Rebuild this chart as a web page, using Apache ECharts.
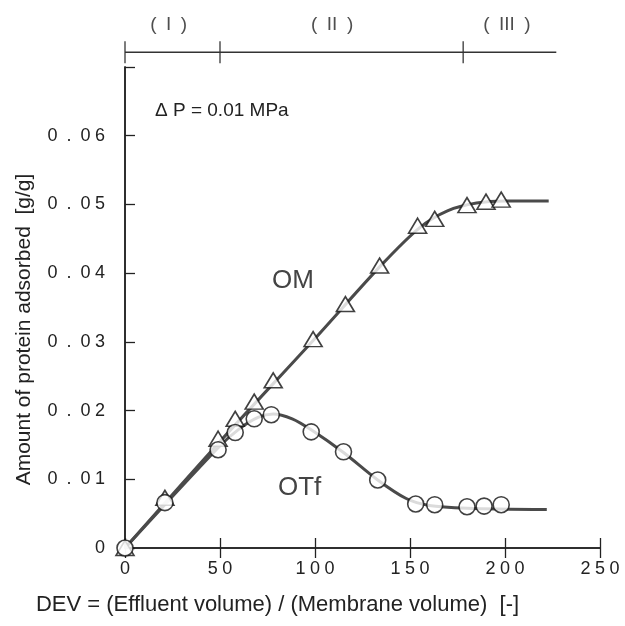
<!DOCTYPE html>
<html><head><meta charset="utf-8">
<script src="https://cdn.jsdelivr.net/npm/echarts@6/dist/echarts.min.js"></script>
<style>html,body{margin:0;padding:0;background:#fff}#c{width:625px;height:626px}</style>
</head><body><div id="c"></div>
<script>
// ---- data ----
// measured points (markers)
const omDEV     = [0, 21, 49, 58, 68, 78, 99, 116, 134, 154, 163, 180, 190, 198];
const omAmount  = [0, 0.0073, 0.0159, 0.0188, 0.0213, 0.0244, 0.0304, 0.0355, 0.0411, 0.0469, 0.0479, 0.0499, 0.0504, 0.0507];
const otfDEV    = [0, 21, 49, 58, 68, 77, 98, 115, 133, 153, 163, 180, 189, 198];
const otfAmount = [0, 0.0066, 0.0143, 0.0168, 0.0188, 0.0194, 0.0169, 0.0140, 0.0099, 0.0064, 0.0063, 0.0060, 0.0061, 0.0063];
// drawn fitted curves
const omCurveDEV     = [0, 50, 100, 135, 155, 170, 185, 200, 223];
const omCurveAmount  = [0, 0.0155, 0.0305, 0.0412, 0.0466, 0.0491, 0.0502, 0.0505, 0.0505];
const otfCurveDEV    = [0, 49, 60, 70, 78, 88, 98, 115, 133, 148, 160, 180, 222];
const otfCurveAmount = [0, 0.0146, 0.0173, 0.0190, 0.0195, 0.0188, 0.0172, 0.0139, 0.0099, 0.0072, 0.0062, 0.0058, 0.0056];
// axes
const xTickValues = [0, 50, 100, 150, 200, 250];
const yTickValues = [0, 0.01, 0.02, 0.03, 0.04, 0.05, 0.06];
// region bracket above the plot
const regionBounds = [0, 50, 178];
const regionEnd = 227;
const regionNames = ['(\u2002I\u2002)', '(\u2002II\u2002)', '(\u2002III\u2002)'];
const regionLabelDEV = [23, 109, 201];

const FONT = 'Liberation Sans, Arial, sans-serif';
const spaced = s => String(s).split('').join('\u2005');
const spacedDecimal = s => String(s).split('.').map(spaced).join('\u2002.\u2002');
const pairs = (xs, ys) => xs.map((x, i) => [x, ys[i]]);

const chart = echarts.init(document.getElementById('c'), null, {renderer: 'canvas'});
const axisLine = {show: true, lineStyle: {color: '#222', width: 1.5}};
const tickStyle = {inside: true, length: 10, lineStyle: {color: '#222', width: 1.3}};
const BAR_Y = 0.26;

chart.setOption({
  animation: false,
  backgroundColor: '#fff',
  textStyle: {fontFamily: FONT},
  grid: [
    {left: 125, right: 25, top: 67, bottom: 78},
    {left: 125, right: 25, top: 10, height: 57}
  ],
  xAxis: [
    {
      type: 'value', gridIndex: 0, position: 'bottom', min: 0, max: 250, interval: 50,
      axisLine: axisLine, splitLine: {show: false}, axisTick: tickStyle,
      axisLabel: {
        customValues: xTickValues, margin: 12, fontSize: 18, color: '#222', fontFamily: FONT,
        formatter: v => spaced(v)
      },
      name: 'DEV = (Effluent volume) / (Membrane volume)  [-]',
      nameLocation: 'middle', nameGap: 46,
      nameTextStyle: {fontSize: 22, color: '#222', fontFamily: FONT, padding: [0, 170, 0, 0]}
    },
    {
      type: 'value', gridIndex: 0, position: 'top', min: 0, max: 250, interval: 50,
      axisLine: axisLine, splitLine: {show: false}, axisTick: tickStyle,
      axisLabel: {show: false}
    },
    {type: 'value', gridIndex: 1, min: 0, max: 250, show: false}
  ],
  yAxis: [
    {
      type: 'value', gridIndex: 0, position: 'left', min: 0, max: 0.07, interval: 0.01,
      axisLine: axisLine, splitLine: {show: false}, axisTick: tickStyle,
      axisLabel: {
        customValues: yTickValues, margin: 20, fontSize: 18, color: '#222', fontFamily: FONT,
        formatter: v => v === 0 ? '0' : spacedDecimal(v.toFixed(2))
      },
      name: 'Amount of protein adsorbed  [g/g]',
      nameLocation: 'middle', nameGap: 90,
      nameTextStyle: {fontSize: 21, color: '#222', fontFamily: FONT, padding: [0, 44, 0, 0]}
    },
    {
      type: 'value', gridIndex: 0, position: 'right', min: 0, max: 0.07,
      axisLine: axisLine, axisTick: {show: false}, axisLabel: {show: false}, splitLine: {show: false}
    },
    {type: 'value', gridIndex: 1, min: 0, max: 1, show: false}
  ],
  graphic: [
    {type: 'text', left: 272, top: 268, style: {text: 'OM', font: '26px ' + FONT, fill: '#444'}},
    {type: 'text', left: 278, top: 475, style: {text: 'OTf', font: '26px ' + FONT, fill: '#444'}},
    {type: 'text', left: 155, top: 101, style: {text: 'Δ P = 0.01 MPa', font: '19px ' + FONT, fill: '#222'}}
  ],
  series: [
    {
      name: 'OM curve', type: 'line', xAxisIndex: 0, yAxisIndex: 0,
      data: pairs(omCurveDEV, omCurveAmount),
      smooth: 0.3, showSymbol: false, symbol: 'none', clip: false,
      lineStyle: {color: '#4a4a4a', width: 3}, z: 2
    },
    {
      name: 'OTf curve', type: 'line', xAxisIndex: 0, yAxisIndex: 0,
      data: pairs(otfCurveDEV, otfCurveAmount),
      smooth: 0.3, showSymbol: false, symbol: 'none', clip: false,
      lineStyle: {color: '#4a4a4a', width: 3}, z: 2
    },
    {
      name: 'OM', type: 'scatter', xAxisIndex: 0, yAxisIndex: 0,
      data: pairs(omDEV, omAmount), symbol: 'triangle', symbolSize: [18, 15], clip: false,
      itemStyle: {color: '#fff', borderColor: '#111', borderWidth: 1.6}, z: 3
    },
    {
      name: 'OTf', type: 'scatter', xAxisIndex: 0, yAxisIndex: 0,
      data: pairs(otfDEV, otfAmount), symbol: 'circle', symbolSize: 16, clip: false,
      itemStyle: {color: '#fff', borderColor: '#111', borderWidth: 1.6}, z: 4
    },
    {
      name: 'region bar', type: 'line', xAxisIndex: 2, yAxisIndex: 2,
      data: [[regionBounds[0], BAR_Y], [regionEnd, BAR_Y]], symbol: 'none', clip: false,
      lineStyle: {color: '#333', width: 1.5}, silent: true
    },
    {
      name: 'region bounds', type: 'scatter', xAxisIndex: 2, yAxisIndex: 2,
      data: regionBounds.map(b => [b, BAR_Y]), symbol: 'rect', symbolSize: [1.6, 22], clip: false,
      itemStyle: {color: '#333'}, silent: true
    },
    {
      name: 'region labels', type: 'scatter', xAxisIndex: 2, yAxisIndex: 2,
      data: regionNames.map((n, i) => ({name: n, value: [regionLabelDEV[i], 0.74]})),
      symbolSize: 0, clip: false, silent: true,
      label: {show: true, position: 'inside', formatter: p => p.name, fontSize: 19, color: '#222', fontFamily: FONT}
    }
  ]
});
</script>
</body></html>
